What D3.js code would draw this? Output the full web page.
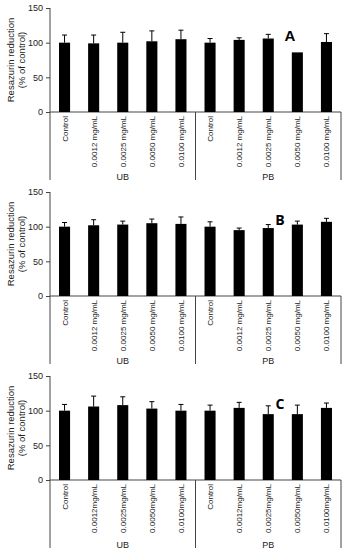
<!DOCTYPE html>
<html>
<head>
<meta charset="utf-8">
<script src="https://cdn.jsdelivr.net/npm/d3@7"></script>
<style>
	body { margin: 0; background: #fff; }
	svg { display: block; font-family: "Liberation Sans", Arial, sans-serif; }
</style>
</head>
<body>
<div id="chart"></div>
<script>
const width = 344,
	height = 550;

// category labels per panel (spacing differs slightly between panels)
const labelsA = ["Control", "0.0012 mg/mL", "0.0025 mg/mL", "0.0050 mg/mL", "0.0100 mg/mL",
	"Control", "0.0012 mg/mL", "0.0025 mg/mL", "0.0050 mg/mL", "0.0100 mg/mL"];
const labelsB = labelsA;
const labelsC = ["Control", "0.0012mg/mL", "0.0025mg/mL", "0.0050mg/mL", "0.0100mg/mL",
	"Control", "0.0012mg/mL", "0.0025mg/mL", "0.0050mg/mL", "0.0100mg/mL"];
const groups = ["UB", "PB"];
const yTicks = [0, 50, 100, 150];

const valuesA = [100, 99, 100, 102, 105, 100, 104, 106, 86, 101];
const errorsA = [11, 12, 15, 15, 13, 6, 3, 6, 0, 12];
const valuesB = [100, 102, 103, 105, 104, 100, 95, 98, 103, 107];
const errorsB = [6, 8, 5, 6, 10, 7, 3, 5, 5, 5];
const valuesC = [100, 106, 108, 103, 100, 100, 104, 95, 95, 104];
const errorsC = [9, 15, 12, 10, 9, 8, 8, 12, 13, 7];

const panels = [
	{ letter: "A", labels: labelsA, values: valuesA, errors: errorsA, top: 8, letterFont: "\"Liberation Sans\", Arial", letterX: 290, letterSize: 15 },
	{ letter: "B", labels: labelsB, values: valuesB, errors: errorsB, top: 192, letterFont: "\"Open Sans\", sans-serif", letterX: 280, letterSize: 14 },
	{ letter: "C", labels: labelsC, values: valuesC, errors: errorsC, top: 376, letterFont: "\"Open Sans\", sans-serif", letterX: 280, letterSize: 14 },
];

const plotH = 104,
	left = 50,
	right = 341,
	below = 68;

const svg = d3
	.select("#chart")
	.append("svg")
	.attr("width", width)
	.attr("height", height);

panels.forEach((p) => {
	const y0 = p.top + plotH;
	const idx = d3.range(p.values.length);

	const x = d3.scaleBand().domain(idx).range([left, right]).paddingInner(0.62).paddingOuter(0.31);
	const xg = d3.scaleBand().domain(groups).range([left, right]);
	const y = d3.scaleLinear().domain([0, 150]).range([y0, p.top]);

	const g = svg.append("g");

	// y axis
	const yAxis = g
		.append("g")
		.attr("transform", `translate(${left},0)`)
		.call(d3.axisLeft(y).tickValues(yTicks).tickSize(4).tickPadding(3));
	yAxis.select(".domain").attr("stroke", "#444").attr("d", `M0,${p.top}V${y0 + below}`);
	yAxis.selectAll(".tick line").attr("stroke", "#444");
	yAxis.selectAll(".tick text").attr("font-size", 9).attr("fill", "#222");

	// x axis line and group dividers
	g.append("line")
		.attr("x1", left).attr("x2", right)
		.attr("y1", y0).attr("y2", y0)
		.attr("stroke", "#444");
	g.selectAll(".divider")
		.data(groups.slice(1).concat(["end"]))
		.join("line")
		.attr("x1", (d) => (d === "end" ? right : xg(d)))
		.attr("x2", (d) => (d === "end" ? right : xg(d)))
		.attr("y1", y0)
		.attr("y2", y0 + below)
		.attr("stroke", "#444");

	// bars
	g.selectAll(".bar")
		.data(idx)
		.join("rect")
		.attr("x", (i) => x(i))
		.attr("width", x.bandwidth())
		.attr("y", (i) => y(p.values[i]))
		.attr("height", (i) => y0 - y(p.values[i]))
		.attr("fill", "#000");

	// error bars (upper only)
	const eb = g.selectAll(".err")
		.data(idx.filter((i) => p.errors[i] > 0))
		.join("g");
	eb.append("line")
		.attr("x1", (i) => x(i) + x.bandwidth() / 2)
		.attr("x2", (i) => x(i) + x.bandwidth() / 2)
		.attr("y1", (i) => y(p.values[i]))
		.attr("y2", (i) => y(p.values[i] + p.errors[i]))
		.attr("stroke", "#000");
	eb.append("line")
		.attr("x1", (i) => x(i) + x.bandwidth() / 2 - 2.5)
		.attr("x2", (i) => x(i) + x.bandwidth() / 2 + 2.5)
		.attr("y1", (i) => y(p.values[i] + p.errors[i]))
		.attr("y2", (i) => y(p.values[i] + p.errors[i]))
		.attr("stroke", "#000");

	// category labels (rotated)
	g.selectAll(".cat")
		.data(idx)
		.join("text")
		.attr("transform", (i) => `translate(${x(i) + x.bandwidth() / 2 + 3},${y0 + 4}) rotate(-90)`)
		.attr("text-anchor", "end")
		.attr("font-size", 8)
		.attr("fill", "#222")
		.text((i) => p.labels[i]);

	// group labels
	g.selectAll(".grp")
		.data(groups)
		.join("text")
		.attr("x", (d) => xg(d) + xg.bandwidth() / 2)
		.attr("y", y0 + 68)
		.attr("text-anchor", "middle")
		.attr("font-size", 9)
		.attr("fill", "#222")
		.text((d) => d);

	// y axis title
	const title = g.append("text")
		.attr("transform", `translate(14,${(p.top + y0) / 2}) rotate(-90)`)
		.attr("text-anchor", "middle")
		.attr("font-size", 9.5)
		.attr("fill", "#222");
	title.append("tspan").attr("x", 0).attr("dy", 0).text("Resazurin reduction");
	title.append("tspan").attr("x", 0).attr("dy", 11).text("(% of control)");

	// panel letter
	g.append("text")
		.attr("x", p.letterX)
		.attr("y", p.top + 33)
		.attr("text-anchor", "middle")
		.attr("font-family", p.letterFont)
		.attr("font-weight", "bold")
		.attr("font-size", p.letterSize)
		.text(p.letter);
});
</script>
</body>
</html>
